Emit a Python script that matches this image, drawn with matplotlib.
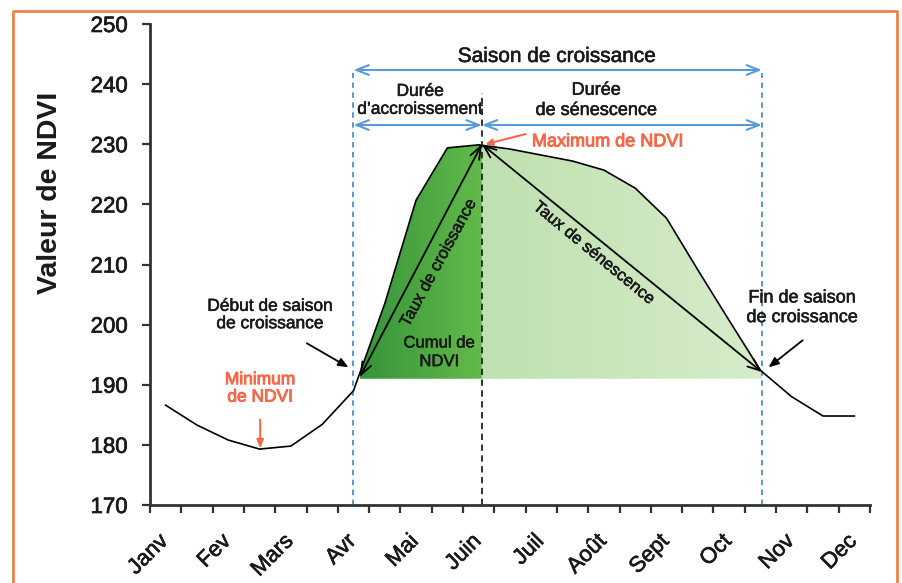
import numpy as np
import matplotlib
matplotlib.use("Agg")
import matplotlib.pyplot as plt
from matplotlib.lines import Line2D
from matplotlib.patches import PathPatch
from matplotlib.colors import LinearSegmentedColormap
from matplotlib.transforms import ScaledTranslation
import matplotlib.patheffects as pe

# ---------------- data ----------------
months = ['Janv', 'Fev', 'Mars', 'Avr', 'Mai', 'Juin', 'Juil', 'Août', 'Sept', 'Oct', 'Nov', 'Dec']
ndvi = [186.6, 183.3, 180.8, 179.3, 179.8, 183.4, 189.0, 203.5, 220.7, 229.4, 229.9,
        229.2, 228.2, 227.2, 225.7, 222.7, 217.7, 209.1, 200.7, 192.4, 188.0, 184.8, 184.8]
yticks = [170, 180, 190, 200, 210, 220, 230, 240, 250]
season_start = 6.0
season_end = 19.05
fill_start = 6.2
peak_x = 10.1
peak_y = 230.0
end_y = 192.1
base_level = 191.0

FONT = 'Liberation Sans'
plt.rcParams['font.family'] = [FONT, 'DejaVu Sans']

fig = plt.figure(figsize=(9.03, 5.83), dpi=100)
ax = fig.add_axes([150/903, 78/583, 720/903, 481/583])

idx = np.arange(len(ndvi))

def heavy(color, w=0.5):
    return [pe.Stroke(linewidth=w, foreground=color), pe.Normal()]

# ---------------- gradient fills ----------------
def grad_fill(x0, x1, c0, c1):
    xs = np.linspace(x0, x1, 300)
    ys = np.maximum(np.interp(xs, idx, ndvi), base_level)
    poly = ax.fill_between(xs, base_level, ys, color='none', lw=0)
    path = poly.get_paths()[0]
    patch = PathPatch(path, transform=ax.transData, facecolor='none', edgecolor='none')
    ax.add_patch(patch)
    grad = np.linspace(0, 1, 256).reshape(1, -1)
    cmap = LinearSegmentedColormap.from_list('g', [c0, c1])
    im = ax.imshow(grad, extent=[x0, x1, base_level, 231], cmap=cmap,
                   aspect='auto', origin='lower', zorder=1, interpolation='bilinear')
    im.set_clip_path(patch)

grad_fill(fill_start, peak_x, '#37933a', '#62bb4a')
grad_fill(peak_x, season_end, '#bfe0b0', '#d6ecca')

# ---------------- data line ----------------
ax.plot(idx, ndvi, color='black', lw=1.2, zorder=4)

ax.set_xlim(-0.5, 22.5)
ax.set_ylim(170, 250)

# ---------------- axes styling ----------------
for s in ['top', 'right']:
    ax.spines[s].set_visible(False)
for s in ['left', 'bottom']:
    ax.spines[s].set_color('#333333')
    ax.spines[s].set_linewidth(2)
    ax.spines[s].set_zorder(6)

ax.set_yticks(yticks)
ax.set_yticklabels([str(v) for v in yticks], fontsize=16, color='#1a1a1a')
ax.tick_params(axis='y', direction='out', length=6, width=1.6, pad=10, colors='#333333', labelcolor='#1a1a1a')
for lab in ax.get_yticklabels():
    lab.set_path_effects(heavy('#1a1a1a', 0.5))

ax.set_xticks(np.arange(-0.5, 23, 1))
ax.set_xticklabels([])
ax.tick_params(axis='x', which='major', direction='out', length=5.5, width=1.6, colors='#333333')
ax.set_xticks(np.arange(0, 23, 2), labels=months, minor=True)
ax.tick_params(axis='x', which='minor', length=0, pad=18.5, labelsize=16, labelcolor='#1a1a1a')
for lab in ax.get_xticklabels(minor=True):
    lab.set_rotation(45)
    lab.set_ha('right')
    lab.set_va('top')
    lab.set_path_effects(heavy('#1a1a1a', 0.45))
    lab.set_transform(lab.get_transform() + ScaledTranslation(7/100, 0, fig.dpi_scale_trans))

ax.set_ylabel('Valeur de NDVI', fontsize=20.5, fontweight='bold', color='#1a1a1a')
ax.yaxis.set_label_coords(-0.121, 0.648)

# ---------------- guide lines ----------------
blue = '#4a8fd6'
for xv in [season_start, season_end]:
    ax.plot([xv, xv], [170, 241.9], color=blue, lw=1.3, ls=(0, (3, 2.5)), zorder=3)
ax.plot([peak_x, peak_x], [170, 238.5], color='#222222', lw=1.3, ls=(0, (3.5, 2.5)), zorder=5)

arrow_blue = dict(arrowstyle='<->,head_length=0.9,head_width=0.35', color='#5b9bd5', lw=1.5,
                  shrinkA=0, shrinkB=0)
ax.annotate('', xy=(season_end, 242.35), xytext=(season_start, 242.35), arrowprops=arrow_blue, zorder=5)
ax.annotate('', xy=(peak_x, 233.2), xytext=(season_start, 233.2), arrowprops=arrow_blue, zorder=5)
ax.annotate('', xy=(season_end, 233.2), xytext=(peak_x, 233.2), arrowprops=arrow_blue, zorder=5)

arrow_black = dict(arrowstyle='<->,head_length=0.9,head_width=0.35', color='black', lw=1.3,
                   shrinkA=0, shrinkB=0)
ax.annotate('', xy=(peak_x, peak_y), xytext=(fill_start, base_level + 0.3), arrowprops=arrow_black, zorder=5)
ax.annotate('', xy=(season_end, end_y), xytext=(peak_x, peak_y), arrowprops=arrow_black, zorder=5)

# ---------------- texts ----------------
dark = '#1a1a1a'
orange = '#f26a4a'
txt = []
txt.append(ax.text(12.5, 244.6, 'Saison de croissance', fontsize=15, ha='center', va='center', color=dark))
txt.append(ax.text(8.13, 237.3, 'Durée\nd\u2019accroissement', fontsize=12.5, ha='center', va='center',
                   color=dark, linespacing=1.25))
txt.append(ax.text(13.75, 237.3, 'Durée\nde sénescence', fontsize=13, ha='center', va='center',
                   color=dark, linespacing=1.25))
mx = ax.text(11.7, 230.4, 'Maximum de NDVI', fontsize=13, ha='left', va='center', color=orange)
mx.set_path_effects(heavy(orange, 0.7))
ax.annotate('', xy=(peak_x + 0.12, 230.0), xytext=(11.5, 231.7),
            arrowprops=dict(arrowstyle='-|>,head_length=0.4,head_width=0.2', color=orange, lw=1.5,
                            shrinkA=0, shrinkB=0), zorder=6)

txt.append(ax.text(8.72, 210.3, 'Taux de croissance', fontsize=12, ha='center', va='center',
                   rotation=61.5, color=dark, zorder=6))
txt.append(ax.text(8.74, 195.4, 'Cumul de\nNDVI', fontsize=12, ha='center', va='center',
                   color=dark, linespacing=1.3, zorder=6))
txt.append(ax.text(13.68, 211.9, 'Taux de sénescence', fontsize=12, ha='center', va='center',
                   rotation=-39.5, color=dark, zorder=6))

txt.append(ax.text(3.34, 201.6, 'Début de saison\nde croissance', fontsize=12.5, ha='center', va='center',
                   color=dark, linespacing=1.2))
ax.annotate('', xy=(5.84, 192.9), xytext=(4.51, 196.9),
            arrowprops=dict(arrowstyle='-|>,head_length=0.6,head_width=0.25', color='black', lw=1.3,
                            shrinkA=0, shrinkB=0))

mn = ax.text(3.02, 189.4, 'Minimum\nde NDVI', fontsize=12.5, ha='center', va='center',
             color=orange, linespacing=1.2)
mn.set_path_effects(heavy(orange, 0.7))
ax.annotate('', xy=(3.02, 179.4), xytext=(3.02, 184.2),
            arrowprops=dict(arrowstyle='-|>,head_length=0.5,head_width=0.2', color=orange, lw=1.5,
                            shrinkA=0, shrinkB=0), zorder=6)

txt.append(ax.text(20.33, 202.8, 'Fin de saison\nde croissance', fontsize=13, ha='center', va='center',
                   color=dark, linespacing=1.2))
ax.annotate('', xy=(19.26, 192.9), xytext=(20.35, 197.4),
            arrowprops=dict(arrowstyle='-|>,head_length=0.6,head_width=0.25', color='black', lw=1.3,
                            shrinkA=0, shrinkB=0))
for t in txt:
    t.set_path_effects(heavy(dark, 0.4))

# ---------------- orange frame ----------------
fig.add_artist(Line2D([13/903, 13/903, 897/903, 897/903], [0, 1 - 11/583, 1 - 11/583, 0],
                      transform=fig.transFigure, color='#e8844f', lw=2))

fig.savefig('out.png', dpi=100)
